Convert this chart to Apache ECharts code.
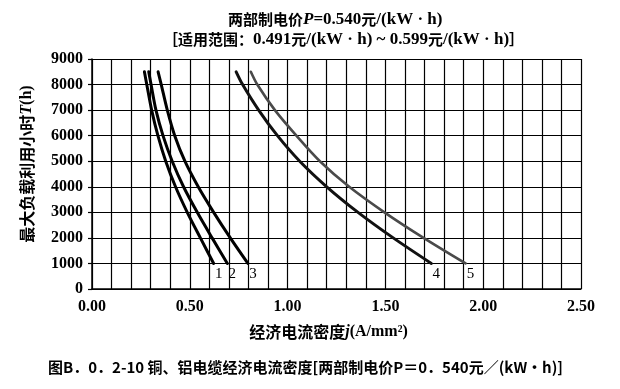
<!DOCTYPE html>
<html><head><meta charset="utf-8">
<script src="https://cdn.jsdelivr.net/npm/echarts@6/dist/echarts.min.js"></script>
<style>html,body{margin:0;padding:0;background:#fff}#c{width:620px;height:389px}</style>
</head><body><div id="c"></div>
<script>
const curveNames = ['1','2','3','4','5'];
const hoursT = [8500, 8000, 7000, 6000, 5000, 4000, 3000, 2000, 1000];
const curve1J = [0.268, 0.280, 0.305, 0.337, 0.377, 0.427, 0.487, 0.554, 0.622];
const curve2J = [0.290, 0.302, 0.327, 0.363, 0.410, 0.468, 0.538, 0.614, 0.692];
const curve3J = [0.338, 0.354, 0.385, 0.423, 0.475, 0.543, 0.622, 0.707, 0.797];
const curve4J = [0.737, 0.770, 0.852, 0.948, 1.062, 1.200, 1.360, 1.540, 1.735];
const curve5J = [0.812, 0.845, 0.935, 1.045, 1.165, 1.315, 1.495, 1.695, 1.910];
const xTickLabels = ['0.00','0.50','1.00','1.50','2.00','2.50'];
const yTickLabels = ['0','1000','2000','3000','4000','5000','6000','7000','8000','9000'];

const SERIF = '"Liberation Serif","Times New Roman","Noto Sans CJK SC",serif';
const CJK = '"Noto Sans CJK SC","Liberation Serif",sans-serif';
const curves = [curve1J, curve2J, curve3J, curve4J, curve5J];
const colors = ['#000','#000','#000','#111','#4a4a4a'];
const widths = [3,3,3,3,2.6];

const chart = echarts.init(document.getElementById('c'), null, {renderer:'canvas'});
const series = curves.map((arr, i) => ({
  type: 'line',
  name: curveNames[i],
  smooth: 0.3,
  symbol: 'circle',
  symbolSize: 0,
  showSymbol: true,
  lineStyle: {color: colors[i], width: widths[i], cap: 'round'},
  itemStyle: {color: colors[i]},
  label: {show: false},
  data: arr.map((x, k) => {
    const d = {value: [x, hoursT[k]]};
    if (k === arr.length - 1) {
      d.label = {show: true, position: 'bottom', distance: 3, offset: [5, 0],
        formatter: curveNames[i], color: '#000', fontFamily: SERIF, fontSize: 15};
    }
    return d;
  })
}));

const richT = {
  c: {fontFamily: CJK, fontWeight: 'bold', fontSize: 15, color: '#000'},
  b: {fontFamily: SERIF, fontWeight: 'bold', fontSize: 17, color: '#000'},
  i: {fontFamily: SERIF, fontWeight: 'bold', fontStyle: 'italic', fontSize: 17, color: '#000'}
};
const richA = {
  c: {fontFamily: CJK, fontWeight: 'bold', fontSize: 16, color: '#000'},
  b: {fontFamily: SERIF, fontWeight: 'bold', fontSize: 16, color: '#000'},
  i: {fontFamily: SERIF, fontWeight: 'bold', fontStyle: 'italic', fontSize: 16, color: '#000'}
};

chart.setOption({
  animation: false,
  backgroundColor: '#fff',
  title: [
    {
      text: '{c|两部制电价}{i|P}{b|=0.540}{c|元}{b|/(kW · h)}',
      left: 223, top: 6,
      textStyle: {rich: richT}
    },
    {
      text: '{c|［适用范围：}{b|0.491}{c|元}{b|/(kW · h) ~ 0.599}{c|元}{b|/(kW · h)}{c|］}',
      left: 158, top: 26,
      textStyle: {rich: richT}
    },
    {
      text: '图B．0．2-10 铜、铝电缆经济电流密度[两部制电价P＝0．540元／(kW•h)]',
      left: 43, top: 355,
      textStyle: {fontFamily: CJK, fontWeight: 'bold', fontSize: 15, color: '#000'}
    }
  ],
  grid: {left: 92, right: 39, top: 59, bottom: 100, show: false},
  xAxis: {
    type: 'value', min: 0, max: 2.5, interval: 0.5,
    name: '{c|经济电流密度}{i|j}{b|(A/mm²)}',
    nameLocation: 'middle', nameGap: 35,
    nameTextStyle: {rich: richA, padding: [0, 16, 0, 0]},
    axisLine: {show: true, lineStyle: {color: '#000', width: 1.5}},
    axisTick: {show: false},
    minorTick: {show: false, splitNumber: 5},
    minorSplitLine: {show: true, lineStyle: {color: '#000', width: 1.2}},
    splitLine: {show: true, lineStyle: {color: '#000', width: 1.2}},
    axisLabel: {color: '#000', fontFamily: SERIF, fontWeight: 'bold', fontSize: 16, margin: 10,
      formatter: v => xTickLabels[Math.round(v / 0.5)]}
  },
  yAxis: {
    type: 'value', min: 0, max: 9000, interval: 1000,
    name: '{c|最大负载利用小时}{i|T}{b|(h)}',
    nameLocation: 'middle', nameGap: 57, nameRotate: 90,
    nameTextStyle: {rich: richA, padding: [0, 0, 0, 20]},
    axisLine: {show: true, lineStyle: {color: '#000', width: 1.5}},
    axisTick: {show: true, length: 4, lineStyle: {color: '#000', width: 1.2}},
    splitLine: {show: true, lineStyle: {color: '#000', width: 1.2}},
    axisLabel: {color: '#000', fontFamily: SERIF, fontWeight: 'bold', fontSize: 16, margin: 9,
      formatter: v => yTickLabels[Math.round(v / 1000)]}
  },
  series: series
});
</script></body></html>
